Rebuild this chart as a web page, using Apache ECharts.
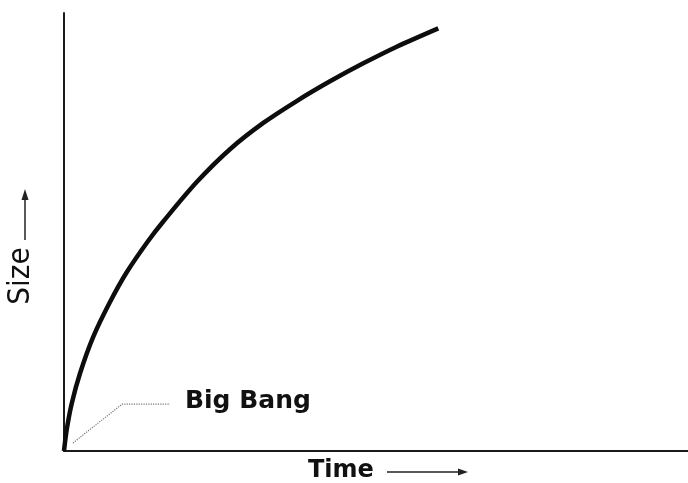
<!DOCTYPE html>
<html>
<head>
<meta charset="utf-8">
<script src="https://cdn.jsdelivr.net/npm/echarts@6/dist/echarts.min.js"></script>
<style>
  html, body { margin: 0; padding: 0; background: #fff; }
  #chart { width: 688px; height: 483px; }
</style>
</head>
<body>
<div id="chart"></div>
<script>
// curve: time (x) vs size (y)
var timeVals = [0, 0.43, 1.23, 2.56, 4.70, 7.37, 10.05, 13.51, 15.91, 21.27, 26.60, 31.94, 37.29, 42.63, 47.96, 53.32, 59.98];
var sizeVals = [0, 4.8, 10.8, 17.7, 26.1, 34.0, 40.8, 48.0, 52.4, 61.4, 68.9, 74.9, 79.9, 84.4, 88.5, 92.3, 96.5];

// leader line for the "Big Bang" note
var leaderX = [1.44, 9.3, 17.0];
var leaderY = [1.83, 10.7, 10.7];

var curve = [];
for (var i = 0; i < timeVals.length; i++) {
    curve.push([timeVals[i], sizeVals[i]]);
}
var leader = [];
for (var j = 0; j < leaderX.length; j++) {
    leader.push([leaderX[j], leaderY[j]]);
}

var myChart = echarts.init(document.getElementById('chart'));

var axisStyle = {
    show: true,
    lineStyle: { color: '#1a1a1a', width: 2 }
};

option = {
    animation: false,
    grid: { left: 64, right: 0, top: 13, bottom: 32 },
    xAxis: {
        type: 'value',
        min: 0,
        max: 100,
        axisLine: axisStyle,
        axisTick: { show: false },
        axisLabel: { show: false },
        splitLine: { show: false }
    },
    yAxis: {
        type: 'value',
        min: 0,
        max: 100,
        axisLine: axisStyle,
        axisTick: { show: false },
        axisLabel: { show: false },
        splitLine: { show: false }
    },
    series: [{
            name: 'leader',
            type: 'line',
            data: leader,
            showSymbol: false,
            lineStyle: { color: '#777', width: 1.2, type: 'dotted' },
            z: 1
        },
        {
            name: 'size',
            type: 'line',
            data: curve,
            smooth: 0.3,
            showSymbol: false,
            lineStyle: { color: '#0d0d0d', width: 4.5 },
            z: 2
        }
    ],
    graphic: [{
            type: 'text',
            left: 185,
            top: 389,
            style: {
                text: 'Big Bang',
                font: 'bold 25px "DejaVu Sans"',
                fill: '#111'
            }
        },
        {
            type: 'text',
            left: 308,
            top: 459,
            style: {
                text: 'Time',
                font: 'bold 24px "DejaVu Sans"',
                fill: '#111'
            }
        },
        // time arrow
        {
            type: 'line',
            shape: { x1: 387, y1: 472, x2: 460, y2: 472 },
            style: { stroke: '#222', lineWidth: 1.5 }
        },
        {
            type: 'polygon',
            shape: { points: [[458, 468.5], [468, 472], [458, 475.5]] },
            style: { fill: '#222' }
        },
        // size label, rotated
        {
            type: 'text',
            x: 21,
            y: 276,
            rotation: Math.PI / 2,
            style: {
                text: 'Size',
                font: '31px "Liberation Sans Narrow", "DejaVu Sans Condensed", sans-serif',
                fill: '#111',
                align: 'center',
                verticalAlign: 'middle'
            }
        },
        // size arrow
        {
            type: 'line',
            shape: { x1: 25, y1: 240, x2: 25, y2: 198 },
            style: { stroke: '#222', lineWidth: 1.5 }
        },
        {
            type: 'polygon',
            shape: { points: [[21.5, 200], [25, 189], [28.5, 200]] },
            style: { fill: '#222' }
        }
    ]
};

myChart.setOption(option);
</script>
</body>
</html>
